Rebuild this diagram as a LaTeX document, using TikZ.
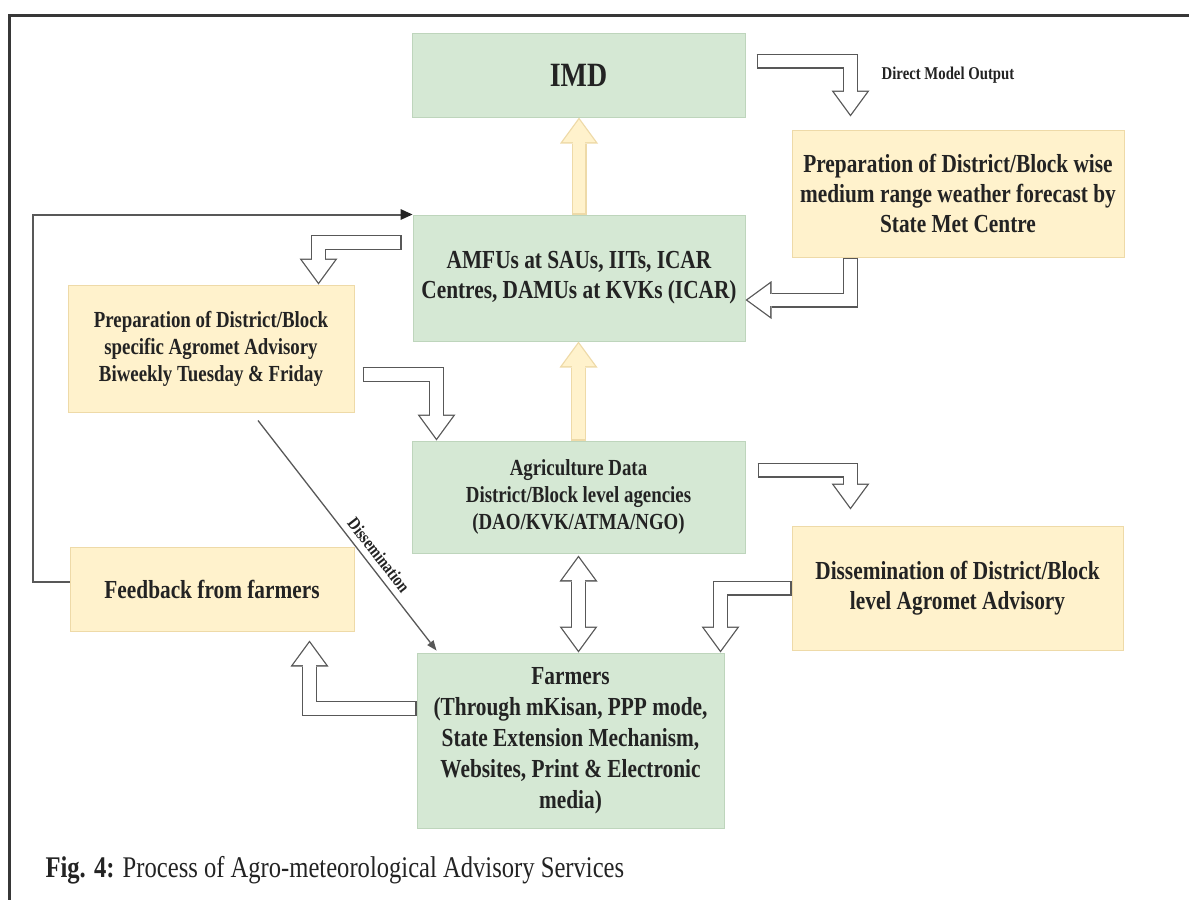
\documentclass[tikz,border=0pt]{standalone}
\usepackage{fontspec}
\setmainfont{Liberation Serif}[FakeStretch=0.82]
\usetikzlibrary{arrows.meta,calc,positioning}
\definecolor{boxgreen}{RGB}{213,232,212}
\definecolor{edgegreen}{RGB}{190,213,188}
\definecolor{boxyellow}{RGB}{255,242,204}
\definecolor{edgeyellow}{RGB}{238,218,168}
\definecolor{arrowgrey}{RGB}{88,88,88}
\definecolor{inkgrey}{RGB}{35,35,35}
\definecolor{framegrey}{RGB}{55,55,55}

\tikzset{
  outer tip/.style={>={Triangle[length=26pt 0 0,width=38pt 0 0,line width=0pt]}},
  inner tip/.style={>={Triangle[length=22.5pt 0 0,width=32.9pt 0 0,line width=0pt]}},
  single/.style={->},
  twin/.style={<->},
  single inner/.style={shorten <=1.3pt,shorten >=2.2pt},
  twin inner/.style={shorten <=2.2pt,shorten >=2.2pt},
  single patch/.style={shorten <=1.3pt,shorten >=22pt},
  twin patch/.style={shorten <=22pt,shorten >=22pt},
}
% hollow block arrow: grey body, then the inside, then a patch over the head base
\newcommand{\blockarrow}[4][single]{%
  \draw[outer tip,#1,line width=15pt,draw=#2] #4;
  \draw[inner tip,#1,#1 inner,line width=12.4pt,draw=#3] #4;
  \draw[#1 patch,line width=12.4pt,draw=#3] #4;
}

\begin{document}
\begin{tikzpicture}[x=1pt,y=-1pt,
    greenbox/.style={draw=edgegreen,fill=boxgreen,line width=1pt,inner sep=0pt,
      align=center,text=inkgrey,font=\bfseries\fontsize{26}{30}\selectfont},
    yellowbox/.style={greenbox,draw=edgeyellow,fill=boxyellow},
    smalltext/.style={font=\bfseries\fontsize{23}{27}\selectfont},
    labeltext/.style={text=inkgrey,inner sep=1pt,font=\bfseries\fontsize{18}{20}\selectfont},
    loopline/.style={draw=arrowgrey,line width=2pt,
      -{Triangle[length=12pt 0 0,width=11pt 0 0,line width=0pt,color=inkgrey]}},
    spreadline/.style={draw=arrowgrey,line width=1.3pt,
      -{Triangle[length=10pt 0 0,width=8pt 0 0,line width=0pt]}}]

\useasboundingbox (0,0) rectangle (1189,900);
\draw[framegrey,line width=3pt] (1189,15) -- (9,15) -- (9,900);

% boxes
\node[greenbox,minimum width=333pt,minimum height=84pt,
      font=\bfseries\fontsize{34}{38}\selectfont] (imd) at (578.5,75) {IMD};
\node[yellowbox,minimum width=332pt,minimum height=127pt] (smc) at (958,193.5)
  {Preparation of District/Block wise\\ medium range weather forecast by\\ State Met Centre};
\node[greenbox,minimum width=332pt,minimum height=126pt] (amfu) at (579,278)
  {AMFUs at SAUs, IITs, ICAR\\ Centres, DAMUs at KVKs (ICAR)};
\node[yellowbox,smalltext,minimum width=286pt,minimum height=127pt] (prep) at (211,348.5)
  {Preparation of District/Block\\ specific Agromet Advisory\\ Biweekly Tuesday \& Friday};
\node[greenbox,smalltext,minimum width=333pt,minimum height=112pt] (agri) at (578.5,497)
  {Agriculture Data\\ District/Block level agencies\\ (DAO/KVK/ATMA/NGO)};
\node[yellowbox,minimum width=331pt,minimum height=124pt] (diss) at (957.5,588)
  {Dissemination of District/Block\\ level Agromet Advisory};
\node[yellowbox,minimum width=284pt,minimum height=84pt] (feed) at (212,589)
  {Feedback from farmers};
\node[greenbox,minimum width=307pt,minimum height=175pt,
      font=\bfseries\fontsize{26}{31}\selectfont] (farm) at (570.5,740.5)
  {Farmers\\ (Through mKisan, PPP mode,\\ State Extension Mechanism,\\ Websites, Print \& Electronic\\ media)};

\node[labeltext,right=135pt of imd.east] (dmo) {Direct Model Output};

% block arrows
\blockarrow{arrowgrey}{white}{($(imd.east)+(11,-14)$) -| ($(smc.north west)+(59,-13)$)}
\blockarrow{edgeyellow}{boxyellow}{(amfu.north) -- (amfu.north |- imd.south)}
\blockarrow{edgeyellow}{boxyellow}{(agri.north) -- (agri.north |- amfu.south)}
\blockarrow{arrowgrey}{white}{($(smc.south west)+(59,0)$) |- ($(amfu.east)+(0,22)$)}
\blockarrow{arrowgrey}{white}{($(amfu.north west)+(-11,28)$) -| ($(prep.north east)+(-36,0)$)}
\blockarrow{arrowgrey}{white}{($(prep.east)+(8,26)$) -| ($(agri.north west)+(25,0)$)}
\blockarrow{arrowgrey}{white}{($(agri.east)+(12,-27)$) -| ($(diss.north west)+(59,-16)$)}
\blockarrow{arrowgrey}{white}{(diss.west) -| ($(farm.north east)+(-4,0)$)}
\blockarrow{arrowgrey}{white}{($(farm.west)+(0,-32)$) -| ($(feed.south east)+(-45,9)$)}
\blockarrow[twin]{arrowgrey}{white}{($(agri.south)+(0,2)$) -- (agri.south |- farm.north)}

% thin arrows
\draw[loopline] ($(feed.west)+(0,-7)$) -- ++(-37,0) |- (amfu.north west);
\draw[spreadline] ($(prep.south)+(47,8)$) --
  node[labeltext,sloped,above=5pt,pos=0.62] (dlab) {Dissemination}
  ($(farm.north west)+(20,-2)$);

\node[anchor=west,text=inkgrey,font=\fontsize{30}{34}\selectfont] (cap) at (42,870)
  {\textbf{Fig. 4:} Process of Agro-meteorological Advisory Services};
\end{tikzpicture}
\end{document}
